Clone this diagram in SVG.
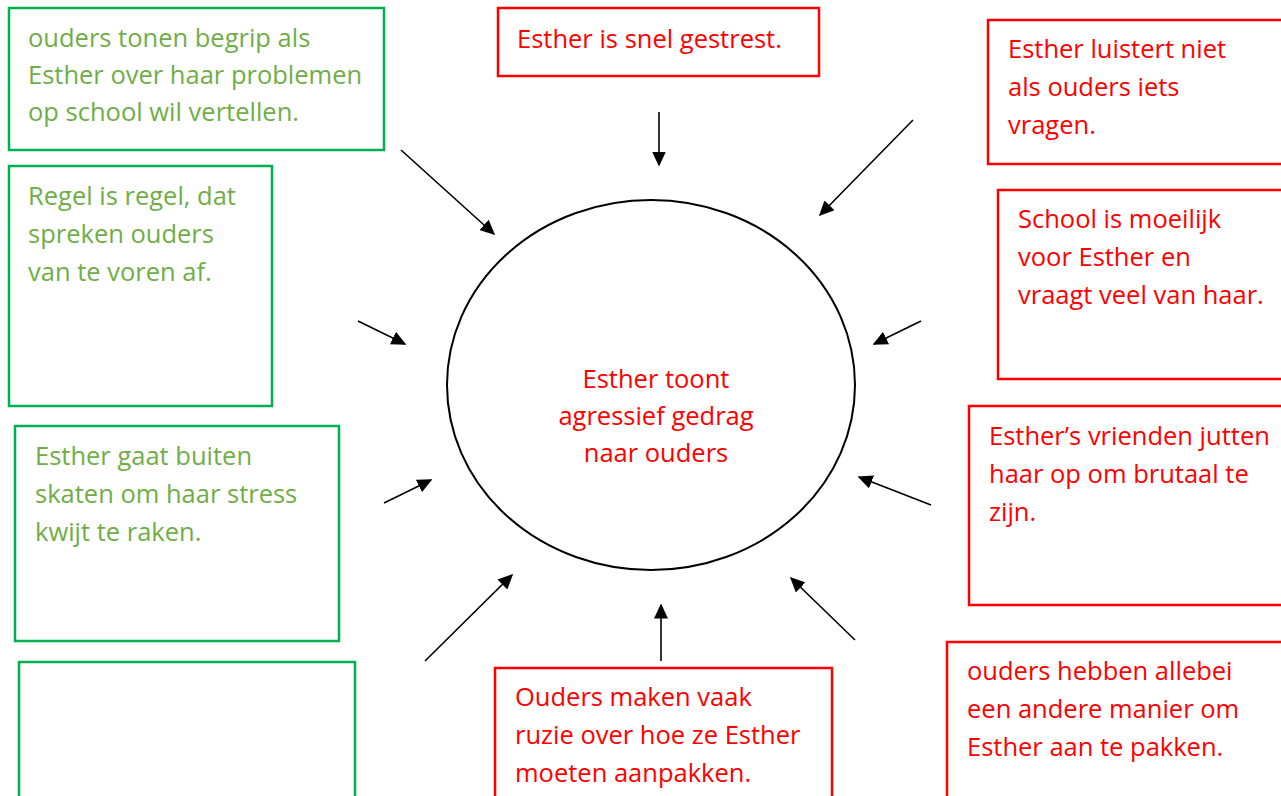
<svg xmlns="http://www.w3.org/2000/svg" width="1281" height="796" viewBox="0 0 1281 796">
<style>
.g{fill:#fff;stroke:#00B050;stroke-width:2.5}
.r{fill:#fff;stroke:#FF0000;stroke-width:2.5}
text{font-family:"Open Sans","Noto Sans",sans-serif;font-size:25.5px}
.gt{fill:#70AD47}
.rt{fill:#FF0000}
.c line{stroke:#000;stroke-width:1.6;marker-end:url(#ah)}
</style>
<defs>
<marker id="ah" viewBox="0 0 10 10" refX="9" refY="5" markerWidth="15" markerHeight="14" markerUnits="userSpaceOnUse" orient="auto" preserveAspectRatio="none">
<path d="M0,0 L10,5 L0,10 Z" fill="#000"/>
</marker>
</defs>
<rect width="1281" height="796" fill="#fff"/>
<g id="n1"><rect class="g" x="9" y="8" width="375" height="142"/>
<text class="gt"><tspan x="28" y="47">ouders tonen begrip als</tspan><tspan x="28" y="84">Esther over haar problemen</tspan><tspan x="28" y="121">op school wil vertellen.</tspan></text></g>
<g id="n2"><rect class="g" x="9" y="166" width="263" height="240"/>
<text class="gt"><tspan x="28" y="205">Regel is regel, dat</tspan><tspan x="28" y="243">spreken ouders</tspan><tspan x="28" y="281">van te voren af.</tspan></text></g>
<g id="n3"><rect class="g" x="15" y="426" width="324" height="215"/>
<text class="gt"><tspan x="35" y="465">Esther gaat buiten</tspan><tspan x="35" y="503">skaten om haar stress</tspan><tspan x="35" y="541">kwijt te raken.</tspan></text></g>
<g id="n4"><rect class="g" x="19" y="662" width="336" height="150"/></g>
<g id="n5"><rect class="r" x="498" y="8" width="321" height="68"/>
<text class="rt"><tspan x="517" y="48">Esther is snel gestrest.</tspan></text></g>
<g id="n6"><rect class="r" x="988" y="20" width="300" height="144"/>
<text class="rt"><tspan x="1008" y="58">Esther luistert niet</tspan><tspan x="1008" y="96">als ouders iets</tspan><tspan x="1008" y="134">vragen.</tspan></text></g>
<g id="n7"><rect class="r" x="998" y="190" width="290" height="189"/>
<text class="rt"><tspan x="1018" y="228">School is moeilijk</tspan><tspan x="1018" y="266">voor Esther en</tspan><tspan x="1018" y="304">vraagt veel van haar.</tspan></text></g>
<g id="n8"><rect class="r" x="969" y="406" width="320" height="199"/>
<text class="rt"><tspan x="989" y="445">Esther’s vrienden jutten</tspan><tspan x="989" y="483">haar op om brutaal te</tspan><tspan x="989" y="521">zijn.</tspan></text></g>
<g id="n9"><rect class="r" x="947" y="642" width="340" height="170"/>
<text class="rt"><tspan x="967" y="680">ouders hebben allebei</tspan><tspan x="967" y="718">een andere manier om</tspan><tspan x="967" y="756">Esther aan te pakken.</tspan></text></g>
<g id="n10"><rect class="r" x="495" y="668" width="337" height="144"/>
<text class="rt"><tspan x="515" y="706">Ouders maken vaak</tspan><tspan x="515" y="744">ruzie over hoe ze Esther</tspan><tspan x="515" y="782">moeten aanpakken.</tspan></text></g>
<g id="center"><ellipse cx="651" cy="385" rx="204" ry="185" fill="#fff" stroke="#000" stroke-width="2"/>
<text class="rt" text-anchor="middle"><tspan x="656" y="388">Esther toont</tspan><tspan x="656" y="425">agressief gedrag</tspan><tspan x="656" y="462">naar ouders</tspan></text></g>
<g id="connectors" class="c">
<line x1="659" y1="112" x2="659" y2="165"/>
<line x1="401" y1="150" x2="494" y2="234"/>
<line x1="358" y1="321" x2="405" y2="344"/>
<line x1="384" y1="503" x2="431" y2="480"/>
<line x1="425" y1="661" x2="512" y2="575"/>
<line x1="661" y1="661" x2="661" y2="605"/>
<line x1="855" y1="640" x2="791" y2="578"/>
<line x1="931" y1="505" x2="859" y2="477"/>
<line x1="921" y1="321" x2="874" y2="344"/>
<line x1="913" y1="120" x2="820" y2="215"/>
</g>
</svg>
